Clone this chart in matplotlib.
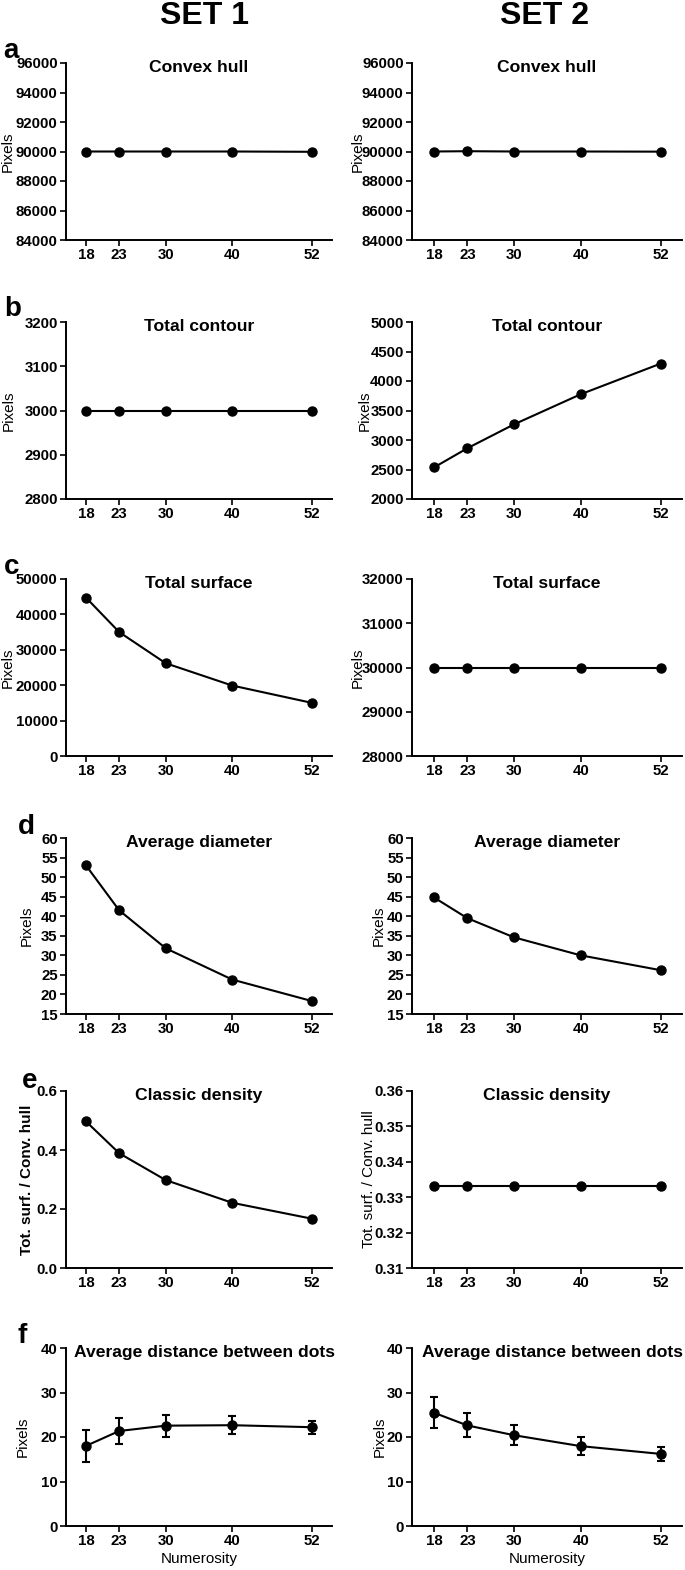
import matplotlib
matplotlib.use("Agg")
import matplotlib.pyplot as plt
import numpy as np

plt.rcParams['font.family'] = ['Liberation Sans', 'DejaVu Sans']

numerosity = [18, 23, 30, 40, 52]
xtick_labels = ["18", "23", "30", "40", "52"]

# Set 1 values
s1_hull = [90000, 90000, 90000, 90000, 89980]
s1_contour = [3000, 3000, 3000, 3000, 3000]
s1_surface = [44750, 35000, 26200, 19900, 15000]
s1_diameter = [53.0, 41.5, 31.8, 23.8, 18.3]
s1_density = [0.497, 0.389, 0.298, 0.221, 0.167]
s1_distance = [18.0, 21.35, 22.55, 22.65, 22.2]
s1_distance_sd = [3.65, 2.85, 2.45, 2.05, 1.5]

# Set 2 values
s2_hull = [90000, 90020, 90000, 90000, 89990]
s2_contour = [2535, 2860, 3265, 3775, 4295]
s2_surface = [30000, 30000, 30000, 30000, 30000]
s2_diameter = [44.8, 39.5, 34.6, 30.0, 26.2]
s2_density = [0.3333, 0.3333, 0.3333, 0.3333, 0.3333]
s2_distance = [25.45, 22.6, 20.4, 17.95, 16.2]
s2_distance_sd = [3.5, 2.7, 2.25, 2.05, 1.55]

titles = ["Convex hull", "Total contour", "Total surface", "Average diameter",
          "Classic density", "Average distance between dots"]
ylabels = ["Pixels", "Pixels", "Pixels", "Pixels", "Tot. surf. / Conv. hull", "Pixels"]
letters = ["a", "b", "c", "d", "e", "f"]

s1_yticks = [np.arange(84000, 96001, 2000), np.arange(2800, 3201, 100),
             np.arange(0, 50001, 10000), np.arange(15, 61, 5),
             [0.0, 0.2, 0.4, 0.6], np.arange(0, 41, 10)]
s2_yticks = [np.arange(84000, 96001, 2000), np.arange(2000, 5001, 500),
             np.arange(28000, 32001, 1000), np.arange(15, 61, 5),
             [0.31, 0.32, 0.33, 0.34, 0.35, 0.36], np.arange(0, 41, 10)]
s1_fmt = ["{:.0f}"] * 4 + ["{:.1f}", "{:.0f}"]
s2_fmt = ["{:.0f}"] * 4 + ["{:.2f}", "{:.0f}"]

set1 = [s1_hull, s1_contour, s1_surface, s1_diameter, s1_density, s1_distance]
set2 = [s2_hull, s2_contour, s2_surface, s2_diameter, s2_density, s2_distance]

W, H = 685, 1570
fig = plt.figure(figsize=(W / 100, H / 100), dpi=100)

rows_px = [(63, 240), (322, 499), (579, 756), (838, 1014), (1091, 1268), (1348, 1526)]
cols_px = [(66, 332), (412, 682)]
xlims = [(15, 55), (14.7, 55.2)]
ylab_x_px = [[7.5, 9, 8, 27, 27, 23], [358, 365, 358, 379, 369, 380]]
letter_pos = [(11, 51), (13, 309), (12, 567), (26, 827), (30, 1081), (22, 1336)]
title_dx_px = [0, 0, 0, 0, 0, 5]

for r in range(6):
    top, bot = rows_px[r]
    for c in range(2):
        x0, x1 = cols_px[c]
        ax = fig.add_axes([x0 / W, 1 - bot / H, (x1 - x0) / W, (bot - top) / H])
        data = set1[r] if c == 0 else set2[r]
        yt = s1_yticks[r] if c == 0 else s2_yticks[r]
        fmt = s1_fmt[r] if c == 0 else s2_fmt[r]
        if r == 5:
            sd = s1_distance_sd if c == 0 else s2_distance_sd
            ax.errorbar(numerosity, data, yerr=sd, color='black', lw=1.5,
                        marker='o', ms=6.5, capsize=3, capthick=1.5, elinewidth=1.5,
                        clip_on=False)
        else:
            ax.plot(numerosity, data, color='black', lw=1.5, marker='o', ms=6.5,
                    clip_on=False)
        ax.set_xlim(*xlims[c])
        ax.set_ylim(yt[0], yt[-1])
        ax.set_yticks(yt)
        ax.set_yticklabels([fmt.format(v) for v in yt])
        ax.set_xticks(numerosity)
        ax.set_xticklabels(xtick_labels)
        for s in ['top', 'right']:
            ax.spines[s].set_visible(False)
        for s in ['left', 'bottom']:
            ax.spines[s].set_linewidth(1.4)
        ax.tick_params(direction='out', length=4, width=1.2, labelsize=10.8, pad=2)
        for lab in ax.get_xticklabels() + ax.get_yticklabels():
            lab.set_fontweight('bold')
        ax.text(0.5 + title_dx_px[r] / (x1 - x0), 0.975, titles[r],
                transform=ax.transAxes, ha='center', va='center',
                fontsize=12.6, fontweight='bold')
        ax.set_ylabel(ylabels[r], fontsize=11,
                      fontweight='bold' if (r == 4 and c == 0) else 'normal')
        ax.yaxis.label.set_va('center')
        ax.yaxis.set_label_coords((ylab_x_px[c][r] - x0) / (x1 - x0), 0.5)
        if r == 5:
            ax.set_xlabel("Numerosity", fontsize=11, labelpad=3)
        ax.patch.set_alpha(0)

for r, (lx, ly) in enumerate(letter_pos):
    fig.text(lx / W, 1 - ly / H, letters[r], ha='center', va='center',
             fontsize=20, fontweight='bold')

fig.text(204 / W, 1 - 16 / H, "SET 1", ha='center', va='center', fontsize=23,
         fontweight='bold')
fig.text(545 / W, 1 - 16 / H, "SET 2", ha='center', va='center', fontsize=23,
         fontweight='bold')

fig.savefig("out.png", dpi=100)
